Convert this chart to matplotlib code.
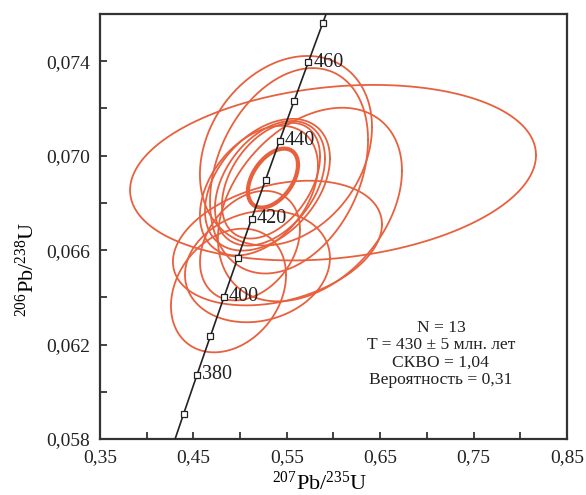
import numpy as np
import matplotlib
matplotlib.use("Agg")
import matplotlib.pyplot as plt

plt.rcParams['font.family'] = ['Liberation Serif', 'DejaVu Serif']
plt.rcParams['mathtext.fontset'] = 'custom'
plt.rcParams['mathtext.rm'] = 'Liberation Serif'
plt.rcParams['mathtext.it'] = 'Liberation Serif:italic'

# ---- data ----
# ellipses: centre 207Pb/235U, centre 206Pb/238U, half-extent x, half-extent y, correlation
ell_x = [0.5995, 0.5491, 0.5524, 0.5748, 0.5293, 0.5320, 0.5331, 0.5202, 0.5400, 0.4876, 0.5186, 0.5106]
ell_y = [0.06928, 0.07021, 0.06936, 0.06793, 0.06877, 0.06883, 0.06894, 0.06852, 0.06630, 0.06429, 0.06531, 0.06619]
ell_sx = [0.2173, 0.0921, 0.0846, 0.0985, 0.0669, 0.0589, 0.0525, 0.0632, 0.1119, 0.0616, 0.0776, 0.0535]
ell_sy = [0.003717, 0.004013, 0.00435, 0.0041, 0.00279, 0.00264, 0.00245, 0.002746, 0.00264, 0.002619, 0.002365, 0.00232]
ell_rho = [0.2, 0.25, 0.3, 0.35, 0.4, 0.4, 0.42, 0.38, 0.3, 0.25, 0.15, 0.3]

# concordia-age ellipse
mean_x, mean_y, mean_sx, mean_sy, mean_rho = 0.5352, 0.06905, 0.0268, 0.00125, 0.45

# concordia
lam238 = 1.55125e-10
lam235 = 9.8485e-10
marker_ages = [370, 380, 390, 400, 410, 420, 430, 440, 450, 460, 470]
label_ages = [380, 400, 420, 440, 460]
curve_age_range = (355, 490)

xticks = [0.35, 0.45, 0.55, 0.65, 0.75, 0.85]
xticklabels = ['0,35', '0,45', '0,55', '0,65', '0,75', '0,85']
yticks = [0.058, 0.062, 0.066, 0.070, 0.074]
yticklabels = ['0,058', '0,062', '0,066', '0,070', '0,074']

stats_text = "N = 13\nT = 430 ± 5 млн. лет\nСКВО = 1,04\nВероятность = 0,31"

ORANGE = '#E8613E'

def ellipse_pts(cx, cy, sx, sy, rho, n=300):
    t = np.linspace(0, 2 * np.pi, n)
    x = cx + sx * np.cos(t)
    y = cy + sy * (rho * np.cos(t) + np.sqrt(1 - rho ** 2) * np.sin(t))
    return x, y

fig = plt.figure(figsize=(5.86, 4.95), dpi=100)
ax = fig.add_axes([0.1706, 0.1131, 0.797, 0.8586])

for cx, cy, sx, sy, r in zip(ell_x, ell_y, ell_sx, ell_sy, ell_rho):
    x, y = ellipse_pts(cx, cy, sx, sy, r)
    ax.plot(x, y, color=ORANGE, lw=1.3, zorder=2)

x, y = ellipse_pts(mean_x, mean_y, mean_sx, mean_sy, mean_rho)
ax.plot(x, y, color=ORANGE, lw=3.0, zorder=3)

t = np.linspace(curve_age_range[0], curve_age_range[1], 400) * 1e6
cx = np.exp(lam235 * t) - 1
cy = np.exp(lam238 * t) - 1
ax.plot(cx, cy, color='#222222', lw=1.2, zorder=4)

ma = np.array(marker_ages) * 1e6
ax.plot(np.exp(lam235 * ma) - 1, np.exp(lam238 * ma) - 1, 's', ms=4.8,
        mfc='white', mec='#222222', mew=0.9, zorder=5, linestyle='none')

for a in label_ages:
    xa = np.exp(lam235 * a * 1e6) - 1
    ya = np.exp(lam238 * a * 1e6) - 1
    ax.annotate(str(a), (xa, ya), xytext=(3.5, 0), textcoords='offset points',
                va='center', ha='left', fontsize=14.5, color='#222222', zorder=6)

ax.text(0.715, 0.0616, stats_text, ha='center', va='center', fontsize=12.6,
        linespacing=1.12, color='#222222')

ax.set_xlim(0.35, 0.85)
ax.set_ylim(0.058, 0.076)
ax.set_xticks(xticks)
ax.set_xticklabels(xticklabels)
ax.set_yticks(yticks)
ax.set_yticklabels(yticklabels)
ax.set_xticks([0.40, 0.50, 0.60, 0.70, 0.80], minor=True)
ax.set_yticks([0.060, 0.064, 0.068, 0.072], minor=True)
ax.tick_params(which='both', direction='in', length=5, width=1.2, colors='#222222',
               labelsize=14, pad=7)
for s in ax.spines.values():
    s.set_linewidth(1.6)
    s.set_color('#333333')

ax.set_xlabel(r'$^{207}$Pb/$^{235}$U', fontsize=16)
ax.xaxis.set_label_coords(0.47, -0.077)
ax.set_ylabel(r'$^{206}$Pb/$^{238}$U', fontsize=16)
ax.yaxis.set_label_coords(-0.13, 0.4)

fig.savefig('out.png', dpi=100, facecolor='white')
